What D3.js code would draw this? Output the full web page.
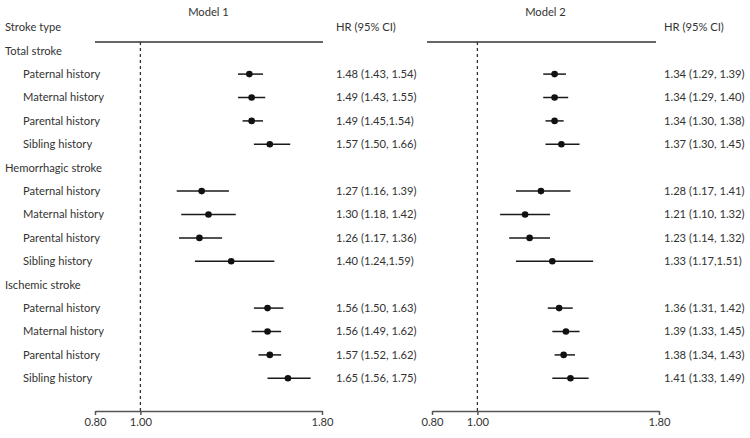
<!DOCTYPE html>
<html>
<head>
<meta charset="utf-8">
<script src="https://cdn.jsdelivr.net/npm/d3@7"></script>
<style>
  body { margin: 0; background: #fff; }
  svg text { font-family: Lato, sans-serif; font-size: 11.2px; fill: #333; }
</style>
</head>
<body>
<svg id="chart" width="750" height="438"></svg>
<script>
// rows, top to bottom
const groups = ["Total stroke", "Hemorrhagic stroke", "Ischemic stroke"]
const subtypes = ["Paternal history", "Maternal history", "Parental history", "Sibling history"]

// model 1
const m1_hr = [1.48, 1.49, 1.49, 1.57, 1.27, 1.30, 1.26, 1.40, 1.56, 1.56, 1.57, 1.65]
const m1_lo = [1.43, 1.43, 1.45, 1.50, 1.16, 1.18, 1.17, 1.24, 1.50, 1.49, 1.52, 1.56]
const m1_hi = [1.54, 1.55, 1.54, 1.66, 1.39, 1.42, 1.36, 1.59, 1.63, 1.62, 1.62, 1.75]
const m1_labels = [
    "1.48 (1.43, 1.54)", "1.49 (1.43, 1.55)", "1.49 (1.45,1.54)", "1.57 (1.50, 1.66)",
    "1.27 (1.16, 1.39)", "1.30 (1.18, 1.42)", "1.26 (1.17, 1.36)", "1.40 (1.24,1.59)",
    "1.56 (1.50, 1.63)", "1.56 (1.49, 1.62)", "1.57 (1.52, 1.62)", "1.65 (1.56, 1.75)"
]

// model 2
const m2_hr = [1.34, 1.34, 1.34, 1.37, 1.28, 1.21, 1.23, 1.33, 1.36, 1.39, 1.38, 1.41]
const m2_lo = [1.29, 1.29, 1.30, 1.30, 1.17, 1.10, 1.14, 1.17, 1.31, 1.33, 1.34, 1.33]
const m2_hi = [1.39, 1.40, 1.38, 1.45, 1.41, 1.32, 1.32, 1.51, 1.42, 1.45, 1.43, 1.49]
const m2_labels = [
    "1.34 (1.29, 1.39)", "1.34 (1.29, 1.40)", "1.34 (1.30, 1.38)", "1.37 (1.30, 1.45)",
    "1.28 (1.17, 1.41)", "1.21 (1.10, 1.32)", "1.23 (1.14, 1.32)", "1.33 (1.17,1.51)",
    "1.36 (1.31, 1.42)", "1.39 (1.33, 1.45)", "1.38 (1.34, 1.43)", "1.41 (1.33, 1.49)"
]

const ticks = [0.8, 1.0, 1.8]

const svg = d3.select("#chart")

// vertical layout: one slot per line (group header + 4 subtypes)
const lines = []
groups.forEach((g, gi) => {
    lines.push({type: "group", text: g})
    subtypes.forEach((s, si) => lines.push({type: "row", text: s, idx: gi * 4 + si}))
})

const y = d3.scaleBand()
    .domain(d3.range(lines.length))
    .range([39, 390])

const yc = i => y(i) + y.bandwidth() / 2
const axisY = 411

// row labels
svg.append("text").attr("x", 5).attr("y", 27).attr("dy", "0.35em").text("Stroke type")

svg.selectAll("text.lbl")
    .data(lines)
    .enter()
    .append("text")
    .attr("class", "lbl")
    .attr("x", d => d.type === "group" ? 5 : 23)
    .attr("y", (d, i) => yc(i))
    .attr("dy", "0.35em")
    .text(d => d.text)

const panels = [
    {title: "Model 1", x0: 95, hr: m1_hr, lo: m1_lo, hi: m1_hi, labels: m1_labels, lineX: [95, 323], textX: 336},
    {title: "Model 2", x0: 432, hr: m2_hr, lo: m2_lo, hi: m2_hi, labels: m2_labels, lineX: [427, 656], textX: 664}
]

panels.forEach(p => {
    const x = d3.scaleLinear().domain([0.8, 1.8]).range([p.x0, p.x0 + 227])
    const g = svg.append("g")

    g.append("text")
        .attr("x", (x(0.8) + x(1.8)) / 2)
        .attr("y", 12)
        .attr("dy", "0.35em")
        .attr("text-anchor", "middle")
        .text(p.title)

    g.append("text")
        .attr("x", p.textX)
        .attr("y", 27)
        .attr("dy", "0.35em")
        .text("HR (95% CI)")

    // top rule
    g.append("line")
        .attr("x1", p.lineX[0]).attr("x2", p.lineX[1])
        .attr("y1", 42).attr("y2", 42)
        .attr("stroke", "#333").attr("stroke-width", 1.3)

    // reference line at 1
    g.append("line")
        .attr("x1", x(1)).attr("x2", x(1))
        .attr("y1", 42).attr("y2", axisY)
        .attr("stroke", "#333").attr("stroke-width", 1.3)
        .attr("stroke-dasharray", "3,3")

    // axis
    const axis = d3.axisBottom(x)
        .tickValues(ticks)
        .tickFormat(d3.format(".2f"))
        .tickSize(4)
        .tickSizeOuter(0)
        .tickPadding(3)
    const ax = g.append("g")
        .attr("transform", `translate(0,${axisY})`)
        .call(axis)
    ax.select(".domain").attr("stroke", "#555").attr("stroke-width", 1.5)
    ax.selectAll(".tick line").attr("stroke", "#555").attr("stroke-width", 1.5)
    ax.selectAll(".tick text")
        .style("font-family", "Lato, sans-serif")
        .style("font-size", "11.2px")
        .attr("fill", "#333")

    const rows = lines.map((d, i) => ({d, i})).filter(r => r.d.type === "row")

    // CI whiskers
    g.selectAll("line.ci")
        .data(rows)
        .enter()
        .append("line")
        .attr("class", "ci")
        .attr("x1", r => x(p.lo[r.d.idx]))
        .attr("x2", r => x(p.hi[r.d.idx]))
        .attr("y1", r => yc(r.i))
        .attr("y2", r => yc(r.i))
        .attr("stroke", "#1a1a1a")
        .attr("stroke-width", 1.5)

    // points
    g.selectAll("circle.pt")
        .data(rows)
        .enter()
        .append("circle")
        .attr("class", "pt")
        .attr("cx", r => x(p.hr[r.d.idx]))
        .attr("cy", r => yc(r.i))
        .attr("r", 3.3)
        .attr("fill", "#111")

    // HR text
    g.selectAll("text.hr")
        .data(rows)
        .enter()
        .append("text")
        .attr("class", "hr")
        .attr("x", p.textX)
        .attr("y", r => yc(r.i))
        .attr("dy", "0.35em")
        .text(r => p.labels[r.d.idx])
})
</script>
</body>
</html>
